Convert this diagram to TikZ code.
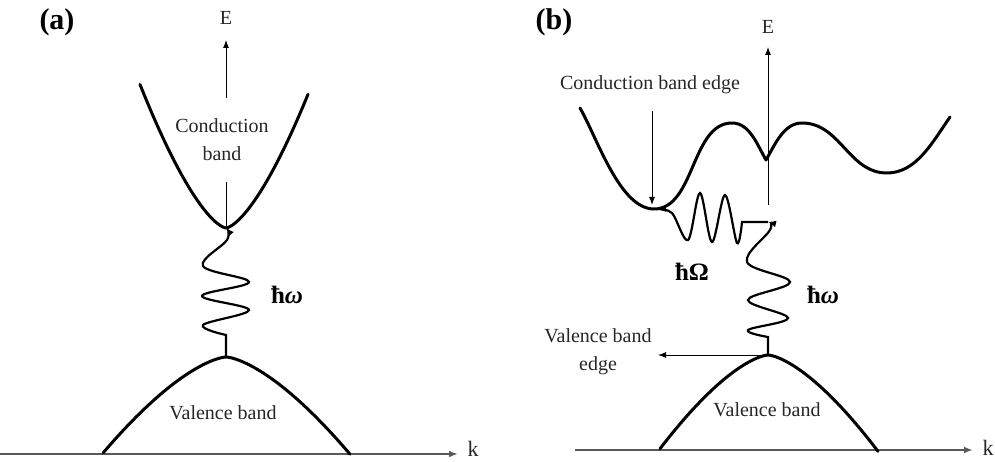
\documentclass[tikz,border=0pt]{standalone}
\usepackage{fontspec}
\setmainfont{Liberation Serif}
\usepackage{xcolor}
\usepackage{tikz}
\usetikzlibrary{arrows.meta,positioning,calc}

\tikzset{
  band/.style={line width=1.5pt,line join=round,line cap=round},
  photon/.style={line width=1.1pt,-{Latex[length=4pt,width=3.4pt]}},
  tip/.style={-{Latex[length=4pt,width=3pt]},line width=0.5pt},
  kaxis/.style={-{Latex[length=4.5pt,width=3.4pt]},black!65,line width=0.9pt},
  lbl/.style={font=\fontsize{10}{14}\selectfont,text=black!85,align=center,inner sep=1pt},
  panel/.style={font=\fontsize{15}{17}\selectfont\bfseries,inner sep=0pt},
  quanta/.style={font=\fontsize{12.5}{14}\selectfont\bfseries,inner sep=0pt}
}

\begin{document}
\begin{tikzpicture}[x=0.5pt,y=0.5pt]
\useasboundingbox (0,0) rectangle (995,461);

% (a) direct transition
\node[panel] (pa) at (57,439) {(a)};
\coordinate (cminA) at (226,233);
\coordinate (vtopA) at (226,104);
\coordinate (etopA) at (226,421);
\coordinate (k0A) at (0,7);
\coordinate (k1A) at (458,7);
\draw[kaxis] (k0A) -- (k1A);
\node[lbl,font=\fontsize{11}{13}\selectfont] (kA) at (473,12) {k};
\node[lbl] (eA) at (226,443) {E};
\node[lbl,inner ysep=10.5pt] (cbA) at (222,321) {Conduction\\band};
\draw[line width=0.5pt] (cminA) -- (cbA.south -| cminA);
\draw[tip] (cbA.north -| cminA) -- (etopA);
\draw[band] plot[domain=-86:82,samples=70,smooth] ({226+\x},{233+0.18*abs(\x)*sqrt(abs(\x))});
\draw[band] plot[domain=-123:124,samples=70,smooth] ({226+\x},{104-0.0704*abs(\x)*sqrt(abs(\x))});
\node[lbl] (vbA) at (223,48) {Valence band};
\draw[photon] (vtopA) -- plot[smooth,tension=0.6] coordinates {(226,126) (203,136) (249,151) (202,165) (249,179) (203,195) (227,221) (cminA)};
\node[quanta] (hwA) at (287,166) {ħ\itshape ω};

% (b) indirect transition
\node[panel] (pb) at (554,439) {(b)};
\coordinate (cedgeB) at (658,251);
\coordinate (jB) at (768,239);
\coordinate (e0B) at (768,256);
\coordinate (etopB) at (768,414);
\coordinate (vtopB) at (768,106);
\coordinate (vedgeB) at (658,106);
\coordinate (k0B) at (575,11);
\coordinate (k1B) at (973,11);
\draw[kaxis] (k0B) -- (k1B);
\node[lbl,font=\fontsize{11}{13}\selectfont] (kB) at (988,13) {k};
\node[lbl] (eB) at (768,434) {E};
\draw[tip] (e0B) -- (etopB);
\draw[band] (580,353) to[out=-60,in=180,looseness=0.7] (654,252)
  to[out=0,in=180,looseness=0.9] (732,338)
  to[out=0,in=120,looseness=0.9] (766,301)
  to[out=60,in=180,looseness=0.9] (802,338)
  to[out=0,in=180] (887,288)
  to[out=0,in=-125,looseness=0.9] (950,344);
\node[lbl] (cedge) at (650,376) {Conduction band edge};
\coordinate (ca) at (652,350);
\draw[tip] (ca) -- (652,256);
\draw[band] plot[domain=-108:110,samples=70,smooth] ({768+\x},{106-0.0835*abs(\x)*sqrt(abs(\x))});
\node[lbl] (vbB) at (767,51) {Valence band};
\node[lbl] (vedge) at (598,109) {Valence band\\edge};
\draw[tip] (vtopB) -- (vedgeB);
\draw[photon] (vtopB) -- plot[smooth,tension=0.6] coordinates {(768,124) (748,131) (788,143) (748,161) (790,179) (747,199) (770,231) (jB)};
\draw[photon] (jB) -- plot[smooth,tension=0.55] coordinates {(742,239) (737,218) (725,266) (712,219) (700,268) (688,221) (672,248) (cedgeB)};
\node[quanta] (hOB) at (692,189) {ħΩ};
\node[quanta] (hwB) at (823,166) {ħ\itshape ω};
\end{tikzpicture}
\end{document}
